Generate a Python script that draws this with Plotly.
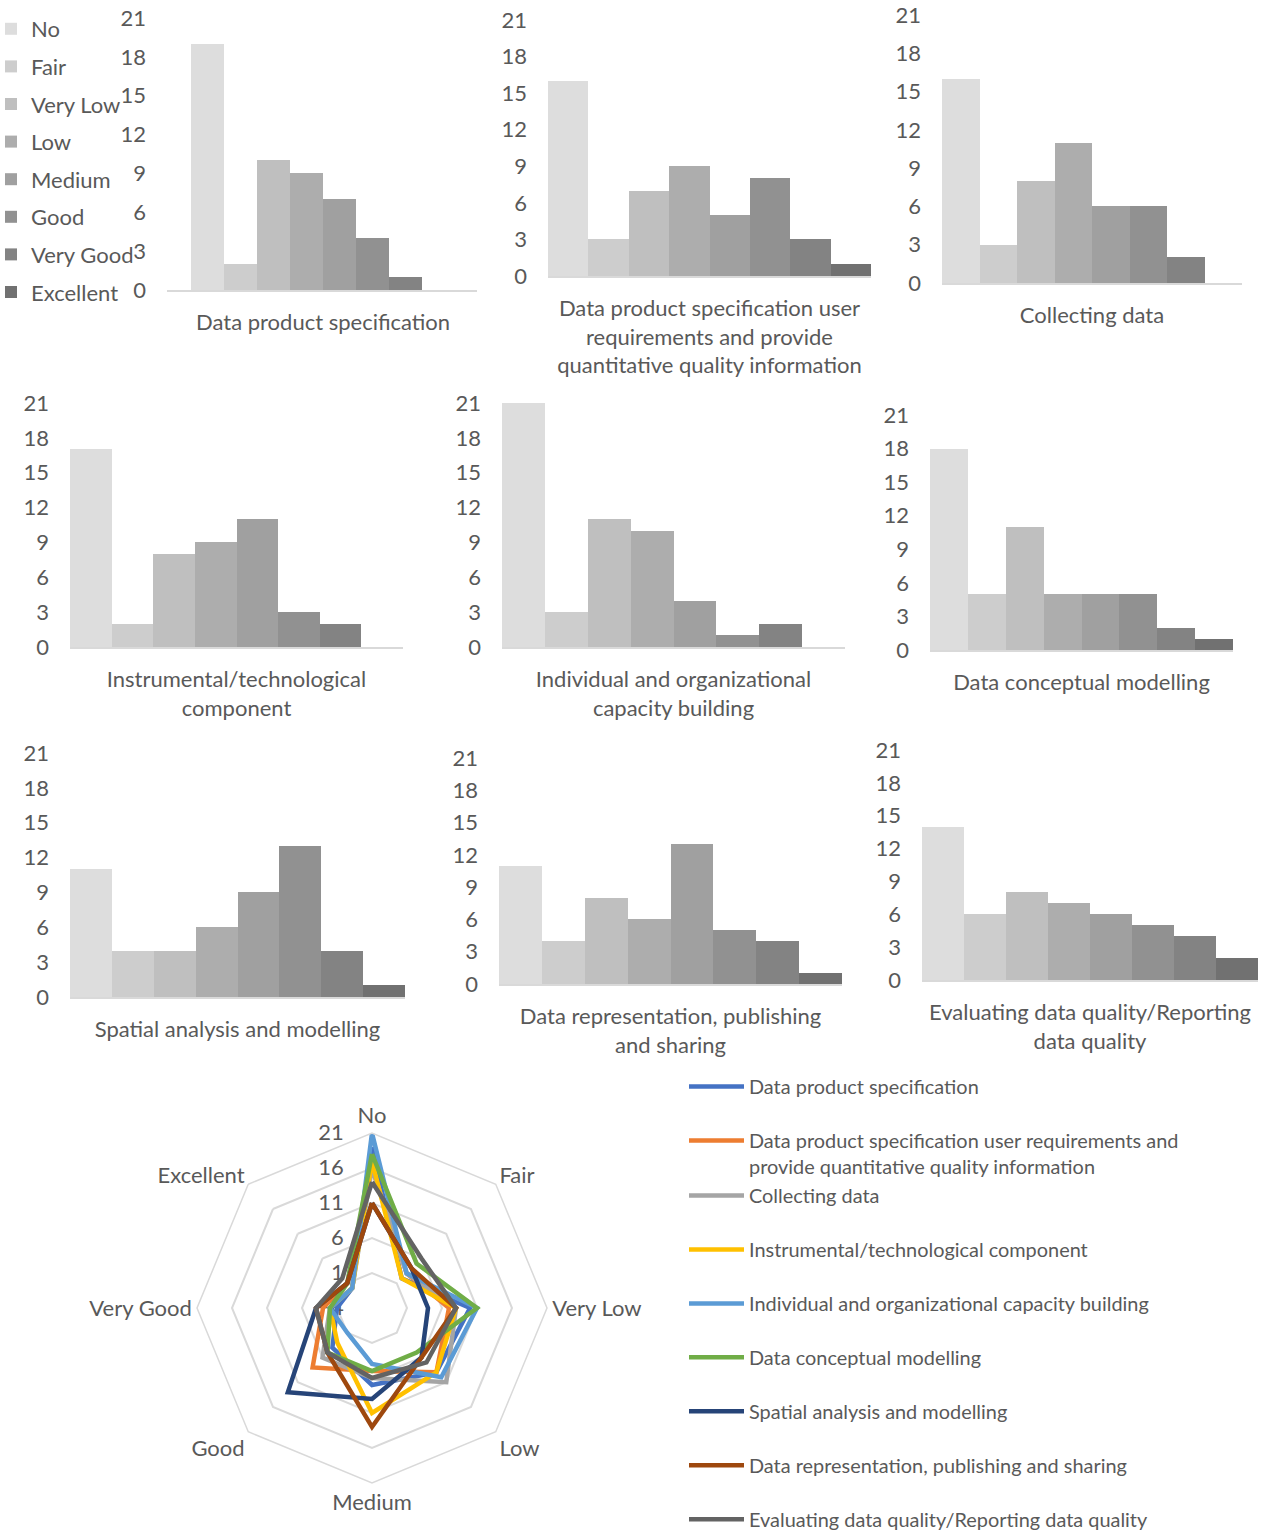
import plotly.graph_objects as go

# Rating scale shared by all charts
ratings = ["No", "Fair", "Very Low", "Low", "Medium", "Good", "Very Good", "Excellent"]
rating_colors = ["#DDDDDD", "#CDCDCD", "#BFBFBF", "#ADADAD",
                 "#A0A0A0", "#919191", "#838383", "#717171"]

# Components (legend names) and their wrapped axis labels
components = [
    "Data product specification",
    "Data product specification user requirements and provide quantitative quality information",
    "Collecting data",
    "Instrumental/technological component",
    "Individual and organizational capacity building",
    "Data conceptual modelling",
    "Spatial analysis and modelling",
    "Data representation, publishing and sharing",
    "Evaluating data quality/Reporting data quality",
]
axis_labels = [
    "Data product specification",
    "Data product specification user<br>requirements and provide<br>quantitative quality information",
    "Collecting data",
    "Instrumental/technological<br>component",
    "Individual and organizational<br>capacity building",
    "Data conceptual modelling",
    "Spatial analysis and modelling",
    "Data representation, publishing<br>and sharing",
    "Evaluating data quality/Reporting<br>data quality",
]
radar_legend_names = list(components)
radar_legend_names[1] = ("Data product specification user requirements and<br>"
                         "provide quantitative quality information")
line_colors = ["#4472C4", "#ED7D31", "#A5A5A5", "#FFC000", "#5B9BD5",
               "#70AD47", "#264478", "#9E480E", "#636363"]

# Responses per rating (No .. Excellent)
data_product_spec = [19, 2, 10, 9, 7, 4, 1, 0]
user_requirements = [16, 3, 7, 9, 5, 8, 3, 1]
collecting_data = [16, 3, 8, 11, 6, 6, 2, 0]
instrumental = [17, 2, 8, 9, 11, 3, 2, 0]
capacity_building = [21, 3, 11, 10, 4, 1, 2, 0]
conceptual_modelling = [18, 5, 11, 5, 5, 5, 2, 1]
spatial_analysis = [11, 4, 4, 6, 9, 13, 4, 1]
representation = [11, 4, 8, 6, 13, 5, 4, 1]
evaluating_quality = [14, 6, 8, 7, 6, 5, 4, 2]

series = [data_product_spec, user_requirements, collecting_data, instrumental,
          capacity_building, conceptual_modelling, spatial_analysis,
          representation, evaluating_quality]

y_ticks = [0, 3, 6, 9, 12, 15, 18, 21]
radial_ticks = [-4, 1, 6, 11, 16, 21]

# ---- page geometry (pixels) ----
W, H = 1264, 1531
FONT = "Lato"
TXT = "#595959"
GRID = "#D9D9D9"


def fx(px):
    return px / W


def fy(px):
    return 1 - px / H


# plot boxes: (x_left, x_right, y_of_zero, y_of_21)
boxes = [
    (167, 477, 290, 18),
    (548, 871, 276, 20),
    (942, 1242, 283, 15),
    (70, 403, 647, 403),
    (502, 845, 647, 403),
    (930, 1233, 650, 415),
    (70, 405, 997, 753),
    (499, 842, 984, 758),
    (922, 1258, 980, 750),
]

fig = go.Figure()
layout_axes = {}

for i, (vals, label, box) in enumerate(zip(series, axis_labels, boxes)):
    n = "" if i == 0 else str(i + 1)
    for r, c, v in zip(ratings, rating_colors, vals):
        fig.add_trace(go.Bar(
            x=[label], y=[v], name=r, marker=dict(color=c, line=dict(width=0)),
            xaxis="x" + n, yaxis="y" + n, legendgroup=r,
            showlegend=(i == 0), legend="legend",
        ))
    x0, x1, yb, yt = box
    xr = [-0.591, 0.583] if i == 0 else [-0.5, 0.5]
    layout_axes["xaxis" + n] = dict(
        domain=[fx(x0), fx(x1)], anchor="y" + n, type="category", range=xr,
        showline=True, linecolor=GRID, linewidth=1.5, showgrid=False,
        ticks="", ticklabelstandoff=12, fixedrange=True,
        tickfont=dict(family=FONT, size=22, color=TXT),
    )
    layout_axes["yaxis" + n] = dict(
        domain=[fy(yb), fy(yt)], anchor="x" + n, range=[0, 21],
        tickvals=y_ticks, showgrid=False, zeroline=False, showline=False,
        ticks="", ticklabelstandoff=20, fixedrange=True,
        tickfont=dict(family=FONT, size=22, color=TXT),
    )

# Radar of all components
for i, (name, vals, col) in enumerate(zip(radar_legend_names, series, line_colors)):
    fig.add_trace(go.Scatterpolar(
        r=vals + vals[:1], theta=ratings + ratings[:1], mode="lines",
        name=name, line=dict(color=col, width=4.5), subplot="polar",
        legend="legend2" if i < 2 else "legend3", legendgroup="c%d" % i,
    ))

cx, cy, rad = 372, 1308, 175
fig.update_layout(
    width=W, height=H,
    margin=dict(l=0, r=0, t=0, b=0, autoexpand=False),
    paper_bgcolor="white", plot_bgcolor="white",
    barmode="group", bargap=0, bargroupgap=0,
    font=dict(family=FONT, color=TXT),
    polar=dict(
        domain=dict(x=[fx(cx - rad), fx(cx + rad)], y=[fy(cy + rad), fy(cy - rad)]),
        bgcolor="white", gridshape="linear",
        angularaxis=dict(
            type="category", categoryarray=ratings, direction="clockwise",
            rotation=90, showgrid=False, showline=True, linecolor=GRID,
            linewidth=1.5, ticks="",
            tickfont=dict(family=FONT, size=22, color=TXT),
        ),
        radialaxis=dict(
            range=[-4, 21], tickvals=radial_ticks, angle=90, side="counterclockwise",
            showline=False, showgrid=True, gridcolor=GRID, gridwidth=1.5,
            ticks="outside", ticklen=20, tickcolor="rgba(0,0,0,0)",
            layer="below traces", tickangle=90,
            tickfont=dict(family=FONT, size=22, color=TXT),
        ),
    ),
    legend=dict(
        x=fx(-9), y=fy(8), xanchor="left", yanchor="top",
        font=dict(family=FONT, size=22, color=TXT), tracegroupgap=6,
        traceorder="grouped", bgcolor="rgba(0,0,0,0)",
    ),
    legend2=dict(
        x=fx(684), y=fy(1067), xanchor="left", yanchor="top", itemwidth=55,
        font=dict(family=FONT, size=19.9, color=TXT), tracegroupgap=25.1,
        traceorder="grouped", valign="top", bgcolor="rgba(0,0,0,0)",
    ),
    legend3=dict(
        x=fx(684), y=fy(1176), xanchor="left", yanchor="top", itemwidth=55,
        font=dict(family=FONT, size=19.9, color=TXT), tracegroupgap=25.1,
        traceorder="grouped", valign="top", bgcolor="rgba(0,0,0,0)",
    ),
    **layout_axes,
)

fig.write_html("out.html")
